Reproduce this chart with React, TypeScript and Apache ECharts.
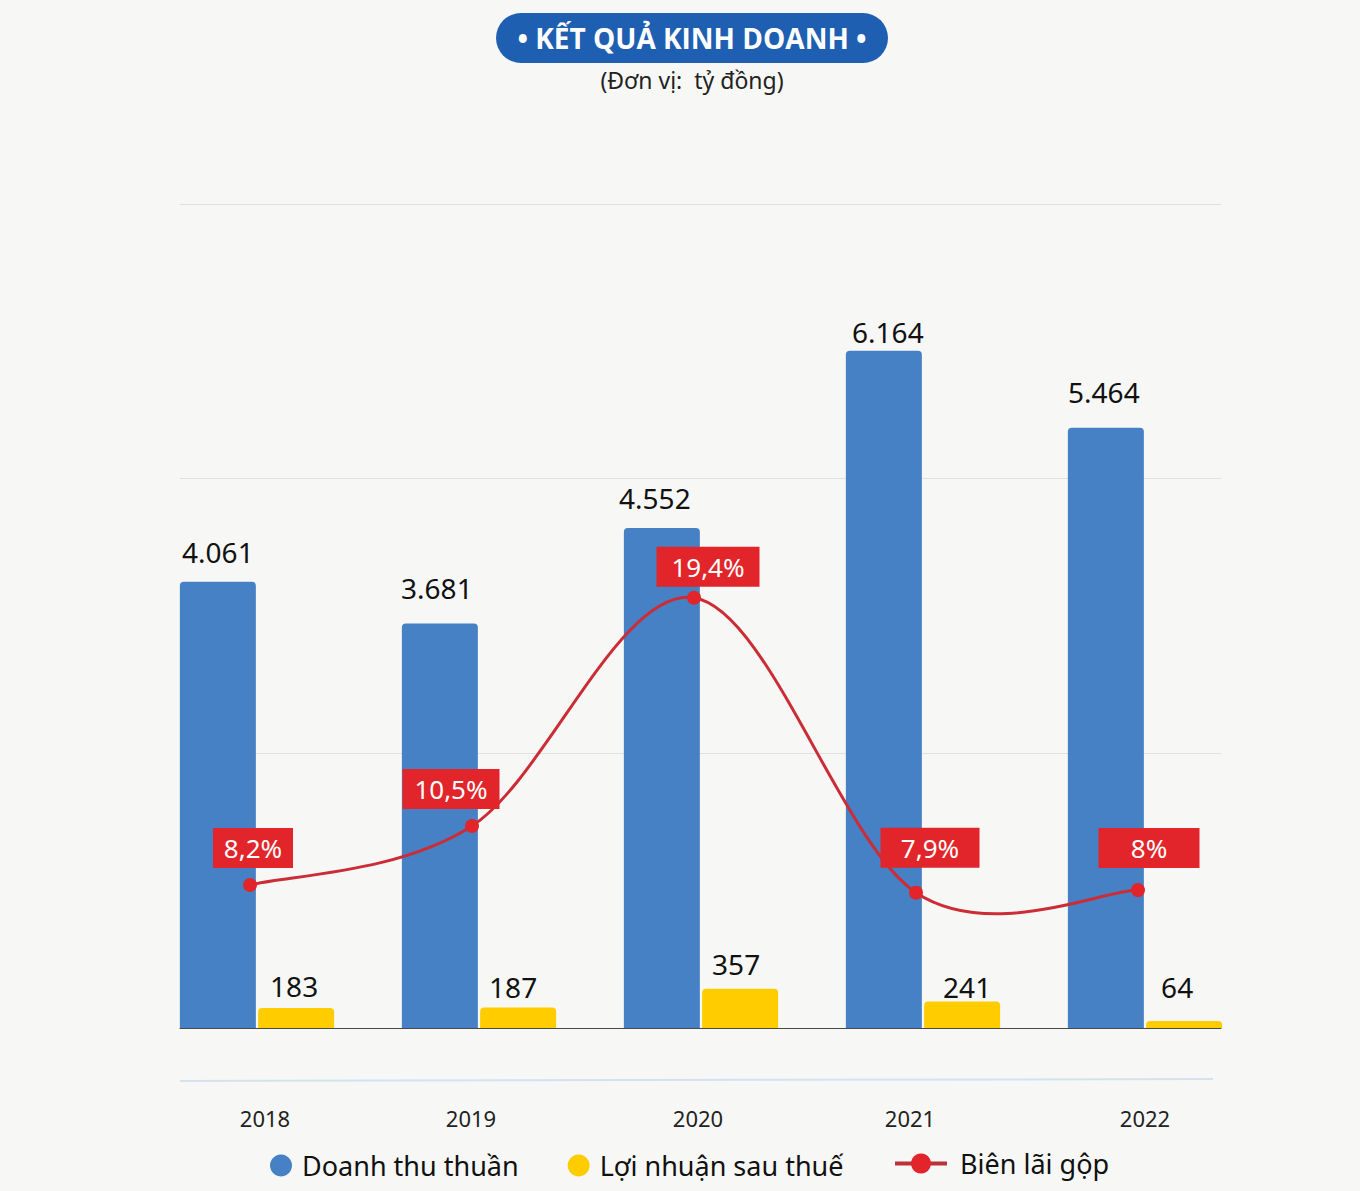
import React, { useEffect, useRef } from "react";
import * as echarts from "echarts";

const years = ["2018", "2019", "2020", "2021", "2022"];
const revenue = [4061, 3681, 4552, 6164, 5464];
const profit = [183, 187, 357, 241, 64];
const margin = [8.2, 10.5, 19.4, 7.9, 8];
const marginLabelWidth = [60, 77, 83, 79, 81];
const marginLabelOffset = [[3, -10], [-21, -10], [14, -4], [14, -18], [11, -15]];
const revenueLabelOffset = [[0, -7], [-3, -13], [-7, -7], [4, 4], [-2, -13]];
const profitLabelOffset = [[-2, 1], [-5, 3], [-4, -2], [5, 8], [-7, -11]];
const yearLabelPad = [[0, 0, 0, 16], [0, 16, 0, 0], [0, 6, 0, 0], [0, 26, 0, 0], [0, 0, 0, 0]];

const FONT = "'Noto Sans', 'Open Sans', sans-serif";
const BLUE = "#4680c5";
const YELLOW = "#ffcc00";
const RED = "#e2252a";
const LINE_RED = "#cc2c36";

const fmtThousands = (v: number) => String(v).replace(/\B(?=(\d{3})+(?!\d))/g, ".");

export default function App() {
  const ref = useRef<HTMLDivElement>(null);
  useEffect(() => {
    document.body.style.margin = "0";
    const chart = echarts.init(ref.current!, null, { renderer: "svg" });
    const rich: any = {};
    yearLabelPad.forEach((p, i) => {
      rich["y" + i] = { fontSize: 22, color: "#222", fontFamily: FONT, padding: p };
    });
    const barLabel = {
      show: true, position: "top", distance: 9, fontSize: 28, color: "#111",
      fontFamily: FONT, formatter: (p: any) => fmtThousands(p.value),
    };
    chart.setOption({
      animation: false,
      backgroundColor: "#f7f8f6",
      grid: [
        { left: 180, width: 1041, top: 204, height: 824 },
        { left: 146, width: 1110, top: 204, height: 824 },
        { left: 139, width: 1110, top: 325.8, height: 769.5 },
      ],
      xAxis: [
        {
          gridIndex: 0, type: "category", data: years,
          axisLine: { show: true, lineStyle: { color: "#4a4a4a", width: 1 } },
          axisTick: { show: false }, axisLabel: { show: false },
        },
        {
          gridIndex: 1, type: "category", data: years,
          axisLine: { show: false }, axisTick: { show: false },
          axisLabel: {
            show: true, margin: 79,
            formatter: (v: string, i: number) => `{y${i}|${v}}`,
            rich,
          },
        },
        { gridIndex: 2, type: "category", data: years, show: false },
      ],
      yAxis: [
        {
          gridIndex: 0, type: "value", min: 0, max: 7500, interval: 2500,
          axisLine: { show: false }, axisTick: { show: false }, axisLabel: { show: false },
          splitLine: { show: true, lineStyle: { color: "#dfe1df", width: 1 } },
        },
        { gridIndex: 1, type: "value", min: 0, max: 7500, show: false, splitLine: { show: false } },
        { gridIndex: 2, type: "value", min: 0, max: 30, show: false, splitLine: { show: false } },
      ],
      legend: [
        {
          left: 270, top: 1152, padding: 0, itemWidth: 22, itemHeight: 22, itemGap: 49,
          textStyle: { fontSize: 27, color: "#111", fontFamily: FONT, padding: [0, 0, 0, 5] },
          data: [
            { name: "Doanh thu thuần", icon: "circle" },
            { name: "Lợi nhuận sau thuế", icon: "circle" },
          ],
        },
        {
          left: 893, top: 1150, padding: 0, itemWidth: 52, itemHeight: 25,
          lineStyle: { color: "#b8323b", width: 4, opacity: 1 },
          itemStyle: { color: RED, opacity: 1 },
          textStyle: { fontSize: 27, color: "#111", fontFamily: FONT, padding: [0, 0, 0, 8] },
          data: [{ name: "Biên lãi gộp" }],
        },
      ],
      graphic: [
        {
          type: "rect", left: 496, top: 13,
          shape: { width: 392, height: 50, r: 25 },
          style: { fill: "#1f5fb2" },
        },
        {
          type: "text", x: 692, y: 38,
          style: {
            text: "• KẾT QUẢ KINH DOANH •", fill: "#fff", fontSize: 28, fontWeight: "bold",
            fontFamily: "'Open Sans', 'Noto Sans', sans-serif", align: "center", verticalAlign: "middle",
          },
        },
        {
          type: "text", x: 692, y: 80,
          style: {
            text: "(Đơn vị:  tỷ đồng)", fill: "#222", fontSize: 23,
            fontFamily: FONT, align: "center", verticalAlign: "middle",
          },
        },
        {
          type: "line",
          shape: { x1: 180, y1: 1081, x2: 1213, y2: 1079 },
          style: { stroke: "#d3e2ef", lineWidth: 2 },
        },
      ],
      series: [
        {
          name: "Doanh thu thuần", type: "bar", xAxisIndex: 1, yAxisIndex: 1,
          data: revenue.map((v, i) => ({ value: v, label: { offset: revenueLabelOffset[i] } })),
          barWidth: 76, barGap: "3%",
          itemStyle: { color: BLUE, borderRadius: [4, 4, 0, 0] },
          label: barLabel,
        },
        {
          name: "Lợi nhuận sau thuế", type: "bar", xAxisIndex: 1, yAxisIndex: 1,
          data: profit.map((v, i) => ({ value: v, label: { offset: profitLabelOffset[i] } })),
          barWidth: 76, barGap: "3%",
          itemStyle: { color: YELLOW, borderRadius: [4, 4, 0, 0] },
          label: barLabel,
        },
        {
          type: "custom", xAxisIndex: 2, yAxisIndex: 2, z: 4, silent: true,
          data: margin.map((v, i) => [i, v]),
          renderItem: (params: any, api: any) => {
            if (params.dataIndex !== 0) return null;
            const pts = margin.map((v, i) => api.coord([i, v]));
            const n = pts.length;
            let d = `M${pts[0][0]},${pts[0][1]}`;
            for (let i = 0; i < n - 1; i++) {
              const p0 = pts[Math.max(i - 1, 0)];
              const p1 = pts[i];
              const p2 = pts[i + 1];
              const p3 = pts[Math.min(i + 2, n - 1)];
              const c1x = p1[0] + (p2[0] - p0[0]) / 6;
              const c1y = p1[1] + (p2[1] - p0[1]) / 6;
              const c2x = p2[0] - (p3[0] - p1[0]) / 6;
              const c2y = p2[1] - (p3[1] - p1[1]) / 6;
              d += ` C${c1x},${c1y} ${c2x},${c2y} ${p2[0]},${p2[1]}`;
            }
            return {
              type: "path",
              shape: { pathData: d },
              style: { fill: "none", stroke: LINE_RED, lineWidth: 3 },
              silent: true,
            };
          },
        },
        {
          name: "Biên lãi gộp", type: "line", xAxisIndex: 2, yAxisIndex: 2,
          symbol: "circle", symbolSize: 14,
          lineStyle: { color: LINE_RED, width: 0, opacity: 0 },
          itemStyle: { color: RED },
          z: 5,
          data: margin.map((v, i) => ({
            value: v,
            label: { width: marginLabelWidth[i], offset: marginLabelOffset[i] },
          })),
          label: {
            show: true, position: "top", distance: 0,
            backgroundColor: RED, color: "#fff", fontSize: 26, fontFamily: FONT,
            padding: [7, 10], lineHeight: 26, align: "center",
            formatter: (p: any) => String(p.value).replace(".", ",") + "%",
          },
        },
      ],
    });
    return () => chart.dispose();
  }, []);
  return <div ref={ref} style={{ width: 1360, height: 1191 }} />;
}
